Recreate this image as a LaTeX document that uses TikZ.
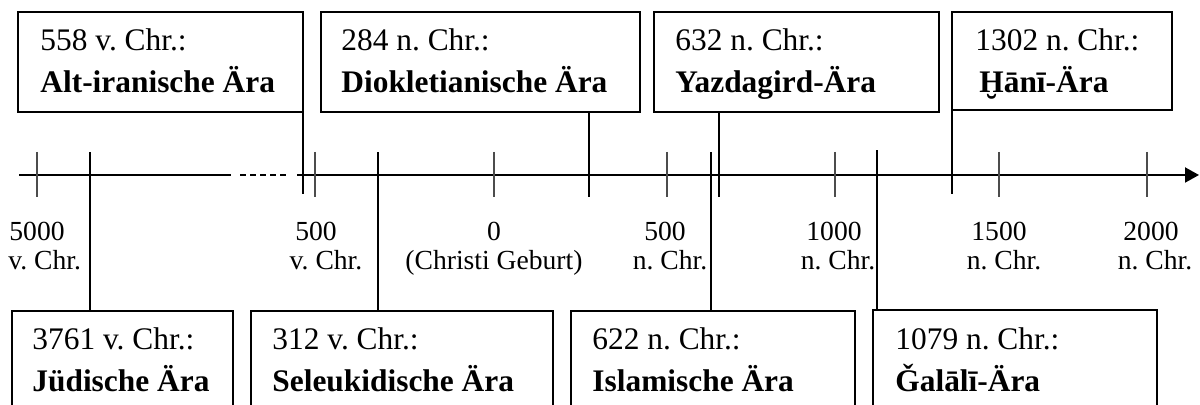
\documentclass[tikz,border=0pt]{standalone}
\usepackage{fontspec}
\setmainfont{Liberation Serif}
\usetikzlibrary{arrows.meta}
\frenchspacing
\begin{document}
\begin{tikzpicture}[x=0.5pt,y=-0.5pt,
  ebox/.style={draw,line width=0.7pt,inner sep=0pt,outer sep=0pt,anchor=north west,fill=white},
  etext/.style={anchor=base west,inner sep=0pt,font=\fontsize{15.7}{19}\selectfont},
  era/.style={line width=1.25pt},
  tickline/.style={line width=0.55pt,draw=black!70},
  lab/.style={anchor=base,inner sep=0pt,font=\fontsize{13.8}{16}\selectfont},
  thinaxis/.style={line width=0.6pt},
  thickaxis/.style={line width=1pt},
]
\useasboundingbox (0,0) rectangle (1200,405);
\clip (0,0) rectangle (1200,405);

% ---- axis
\coordinate (axL) at (19,175);
\coordinate (axA) at (231,175);
\coordinate (axB) at (240,175);
\coordinate (axC) at (289,175);
\coordinate (axR) at (297,175);
\coordinate (axE) at (1199,175);
\draw[thinaxis] (axL) -- (axA);
\draw[thinaxis,dash pattern=on 3pt off 2pt] (axB) -- (axC);
\draw[thickaxis,-{Triangle[length=7pt,width=7.5pt]}] (axR) -- (axE);

% ---- ticks
\foreach \x in {37,315,494,667,835,999,1147}
  \draw[tickline] (\x,152) -- (\x,197);

% ---- axis labels
\node[lab,anchor=base west] (l1a) at (9,241) {5000};
\node[lab,anchor=base west] (l1b) at (8,270) {v. Chr.};
\node[lab] (l2a) at (316,241) {500};
\node[lab] (l2b) at (326,270) {v. Chr.};
\node[lab] (l3a) at (494,241) {0};
\node[lab] (l3b) at (494,270) {(Christi Geburt)};
\node[lab] (l4a) at (665,241) {500};
\node[lab] (l4b) at (670,270) {n. Chr.};
\node[lab] (l5a) at (834,241) {1000};
\node[lab] (l5b) at (838,270) {n. Chr.};
\node[lab] (l6a) at (999,241) {1500};
\node[lab] (l6b) at (1004,270) {n. Chr.};
\node[lab] (l7a) at (1151,241) {2000};
\node[lab] (l7b) at (1155,270) {n. Chr.};

% ---- top boxes
\node[ebox,minimum width=142.5pt,minimum height=50pt] (b1) at (18,12) {};
\node[ebox,minimum width=159.5pt,minimum height=50pt] (b2) at (321,12) {};
\node[ebox,minimum width=142.5pt,minimum height=50pt] (b3) at (654,12) {};
\node[ebox,minimum width=110pt,minimum height=49pt] (b4) at (952,12) {};

\node[etext] (b1a) at (40,51) {558 v. Chr.:};
\node[etext] (b1b) at (40,93) {\bfseries Alt-iranische Ära};
\node[etext] (b2a) at (341,51) {284 n. Chr.:};
\node[etext] (b2b) at (341,93) {\bfseries Diokletianische Ära};
\node[etext] (b3a) at (675,51) {632 n. Chr.:};
\node[etext] (b3b) at (675,93) {\bfseries Yazdagird-Ära};
\node[etext] (b4a) at (975,51) {1302 n. Chr.:};
\node[etext] (b4b) at (979,93) {\bfseries Ḫānī-Ära};

% ---- bottom boxes
\node[ebox,minimum width=110.5pt,minimum height=60pt] (c1) at (12,311) {};
\node[ebox,minimum width=151pt,minimum height=60pt] (c2) at (251,311) {};
\node[ebox,minimum width=142pt,minimum height=60pt] (c3) at (571,311) {};
\node[ebox,minimum width=142pt,minimum height=60pt] (c4) at (873,310) {};

\node[etext] (c1a) at (32,350) {3761 v. Chr.:};
\node[etext] (c1b) at (32,392) {\bfseries Jüdische Ära};
\node[etext] (c2a) at (272,350) {312 v. Chr.:};
\node[etext] (c2b) at (272,392) {\bfseries Seleukidische Ära};
\node[etext] (c3a) at (592,350) {622 n. Chr.:};
\node[etext] (c3b) at (592,392) {\bfseries Islamische Ära};
\node[etext] (c4a) at (895,350) {1079 n. Chr.:};
\node[etext] (c4b) at (895,392) {\bfseries Ǧalālī-Ära};

% ---- era lines
\coordinate (e3761) at (90,152);
\coordinate (e558) at (303,194);
\coordinate (e312) at (378,152);
\coordinate (e284) at (589,197);
\coordinate (e622) at (711,152);
\coordinate (e632) at (719,197);
\coordinate (e1079) at (877,150);
\coordinate (e1302) at (952,194);
\draw[era] (c1.north -| e3761) -- (e3761);
\draw[era] (b1.south -| e558) -- (e558);
\draw[era] (c2.north -| e312) -- (e312);
\draw[era] (b2.south -| e284) -- (e284);
\draw[era] (c3.north -| e622) -- (e622);
\draw[era] (b3.south -| e632) -- (e632);
\draw[era] (c4.north -| e1079) -- (e1079);
\draw[era] (b4.south -| e1302) -- (e1302);
\end{tikzpicture}
\end{document}
